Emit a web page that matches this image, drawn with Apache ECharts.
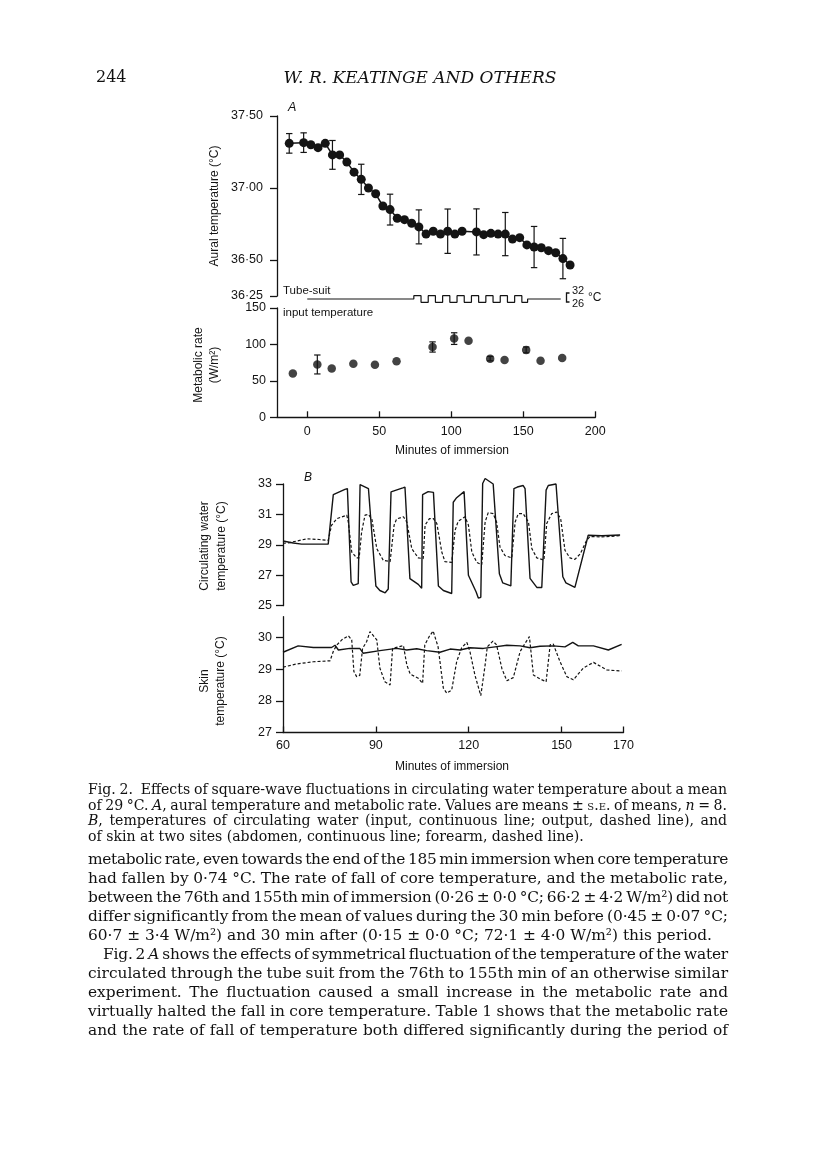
<!DOCTYPE html>
<html><head><meta charset="utf-8">
<script src="https://cdn.jsdelivr.net/npm/echarts@6/dist/echarts.min.js"></script>
<style>
html,body{margin:0;padding:0;background:#fff;}
#page{position:relative;width:816px;height:1158px;overflow:hidden;background:#fff;}
#chart{position:absolute;left:0;top:0;width:816px;height:1158px;}
.t{position:absolute;color:#111;font-family:"DejaVu Serif","Liberation Serif",serif;white-space:nowrap;}
.cap{left:88px;width:639px;font-size:14.1px;line-height:15.5px;height:15.5px;}
.body{left:88px;width:640px;font-size:15.4px;line-height:19px;height:19px;}
.sc{font-variant:small-caps;}
</style></head>
<body><div id="page"><div id="chart"></div>
<div class="t" style="left:96px;top:67px;font-size:16px;">244</div>
<div class="t" style="left:220px;width:400px;top:67px;font-size:17px;font-style:italic;text-align:center;">W. R. KEATINGE AND OTHERS</div>

<div class="t cap j" style="top:782px;">Fig. 2.&nbsp; Effects of square-wave fluctuations in circulating water temperature about a mean</div>
<div class="t cap j" style="top:797.5px;">of 29 °C. <i>A</i>, aural temperature and metabolic rate. Values are means ± <span class="sc">s.e.</span> of means, <i>n</i> = 8.</div>
<div class="t cap j" style="top:813px;"><i>B</i>, temperatures of circulating water (input, continuous line; output, dashed line), and</div>
<div class="t cap" style="top:828.5px;">of skin at two sites (abdomen, continuous line; forearm, dashed line).</div>

<div class="t body j" style="top:849.5px;">metabolic rate, even towards the end of the 185 min immersion when core temperature</div>
<div class="t body j" style="top:868.6px;">had fallen by 0·74 °C. The rate of fall of core temperature, and the metabolic rate,</div>
<div class="t body j" style="top:887.7px;">between the 76th and 155th min of immersion (0·26 ± 0·0 °C; 66·2 ± 4·2 W/m²) did not</div>
<div class="t body j" style="top:906.8px;">differ significantly from the mean of values during the 30 min before (0·45 ± 0·07 °C;</div>
<div class="t body" style="top:925.9px;">60·7 ± 3·4 W/m²) and 30 min after (0·15 ± 0·0 °C; 72·1 ± 4·0 W/m²) this period.</div>
<div class="t body j" style="top:945px;left:103px;width:625px;">Fig. 2 <i>A</i> shows the effects of symmetrical fluctuation of the temperature of the water</div>
<div class="t body j" style="top:964.1px;">circulated through the tube suit from the 76th to 155th min of an otherwise similar</div>
<div class="t body j" style="top:983.2px;">experiment. The fluctuation caused a small increase in the metabolic rate and</div>
<div class="t body j" style="top:1002.3px;">virtually halted the fall in core temperature. Table 1 shows that the metabolic rate</div>
<div class="t body j" style="top:1021.4px;">and the rate of fall of temperature both differed significantly during the period of</div>
</div>
<script>
// ---------- data ----------
const auralMin = [-12.5, -2.5, 2.5, 7.5, 12.5, 17.5, 22.5, 27.5, 32.5, 37.5, 42.5, 47.5, 52.5, 57.5, 62.5, 67.5, 72.5, 77.5, 82.5, 87.5, 92.5, 97.5, 102.5, 107.5, 117.5, 122.5, 127.5, 132.5, 137.5, 142.5, 147.5, 152.5, 157.5, 162.5, 167.5, 172.5, 177.5, 182.5];
const auralTemp = [37.31, 37.315, 37.30, 37.28, 37.31, 37.23, 37.23, 37.18, 37.11, 37.06, 37.00, 36.96, 36.875, 36.85, 36.79, 36.78, 36.755, 36.73, 36.68, 36.70, 36.68, 36.70, 36.68, 36.70, 36.695, 36.676, 36.685, 36.68, 36.68, 36.645, 36.655, 36.605, 36.59, 36.585, 36.565, 36.55, 36.51, 36.465];
const auralErrMin = [-12.5, -2.5, 17.5, 37.5, 57.5, 77.5, 97.5, 117.5, 137.5, 157.5, 177.5];
const auralErrMean = [37.31, 37.315, 37.23, 37.06, 36.85, 36.73, 36.70, 36.695, 36.68, 36.59, 36.51];
const auralErr = [0.068, 0.068, 0.10, 0.105, 0.107, 0.118, 0.154, 0.16, 0.15, 0.143, 0.14];

const metMin = [-10, 7, 17, 32, 47, 62, 87, 102, 112, 127, 137, 152, 162, 177];
const metRate = [60, 72.5, 67, 73.5, 72, 77, 96.5, 108, 105, 80.5, 78.5, 92.5, 77.5, 81.5];
const metErr = [0, 13, 0, 0, 0, 0, 7, 8, 0, 3, 0, 4, 0, 0];

const tubeMin = [0, 74, 74, 79, 79, 84, 84, 89, 89, 94, 94, 99, 99, 104, 104, 109, 109, 114, 114, 119, 119, 124, 124, 129, 129, 134, 134, 139, 139, 144, 144, 149, 149, 153, 153, 176];
const tubeTemp = [29, 29, 32, 32, 26, 26, 32, 32, 26, 26, 32, 32, 26, 26, 32, 32, 26, 26, 32, 32, 26, 26, 32, 32, 26, 26, 32, 32, 26, 26, 32, 32, 26, 26, 29, 29];

const circInMin = [60, 63.3, 66, 70, 74.6, 76.25, 80.0, 80.8, 82.0, 82.7, 84.3, 84.9, 85.4, 87.6, 90.0, 91.3, 93.0, 94.0, 94.9, 98.7, 99.4, 101.0, 103.7, 104.8, 105.1, 106.9, 108.6, 110.2, 111.8, 114.5, 115.0, 116.1, 118.5, 119.9, 122.4, 123.1, 123.9, 124.5, 125.3, 127.9, 129.9, 131.0, 133.6, 134.6, 135.7, 137.6, 138.2, 139.8, 142.0, 143.6, 145.0, 145.7, 148.2, 150.4, 151.4, 154.3, 158.6, 163, 168.9];
const circIn = [29.25, 29.12, 29.05, 29.05, 29.05, 32.3, 32.65, 32.7, 26.56, 26.34, 26.45, 32.96, 33.05, 32.7, 26.3, 26.0, 25.85, 26.1, 32.48, 32.75, 32.8, 26.78, 26.4, 26.15, 32.3, 32.5, 32.45, 26.3, 26.0, 25.8, 31.8, 32.1, 32.5, 27.0, 25.9, 25.5, 25.55, 33.03, 33.36, 33.0, 27.1, 26.5, 26.3, 32.7, 32.8, 32.9, 32.7, 26.8, 26.2, 26.2, 32.6, 32.9, 33.0, 26.9, 26.5, 26.2, 29.63, 29.6, 29.65];
const circOutMin = [60, 62.3, 67.7, 71.7, 74.6, 75.7, 77.4, 80.6, 81.1, 82.2, 83.8, 84.6, 85.4, 86.5, 87.6, 88.7, 90.3, 92.4, 94.6, 95.9, 96.7, 98.9, 100.0, 101.6, 103.7, 105.3, 105.9, 107.3, 108.6, 109.7, 111.3, 112.3, 114.5, 115.6, 116.6, 118.8, 119.9, 121.0, 122.6, 124.2, 125.3, 126.3, 127.9, 129.0, 130.1, 131.7, 133.9, 135.0, 136.0, 137.6, 139.3, 140.4, 142.0, 144.3, 145.2, 146.8, 148.4, 149.7, 151.1, 152.7, 154.3, 156.0, 158.1, 159.2, 163, 168.9];
const circOut = [29.1, 29.15, 29.4, 29.35, 29.3, 30.29, 30.72, 30.95, 30.5, 28.53, 28.14, 28.14, 29.85, 30.95, 31.0, 30.7, 28.75, 27.98, 27.9, 30.3, 30.7, 30.85, 30.5, 28.75, 28.14, 28.1, 30.3, 30.72, 30.72, 30.4, 28.53, 27.9, 27.85, 29.96, 30.55, 30.84, 30.3, 28.53, 27.85, 27.7, 30.5, 31.12, 31.05, 30.5, 28.86, 28.3, 28.14, 30.5, 31.05, 31.05, 30.5, 28.75, 28.14, 28.0, 30.4, 31.05, 31.16, 30.72, 28.64, 28.14, 28.05, 28.4, 29.3, 29.55, 29.52, 29.6];

const skinAbdMin = [60, 64.9, 69.8, 75.7, 76.8, 77.9, 81.6, 84.8, 85.9, 91.3, 96.7, 100.0, 103.2, 106.4, 110.7, 114.0, 117.2, 120.4, 124.7, 128.5, 132.3, 136.6, 139.8, 143.0, 147.3, 151.1, 153.6, 155.4, 160.3, 165.1, 169.4];
const skinAbd = [29.53, 29.73, 29.68, 29.68, 29.75, 29.6, 29.65, 29.65, 29.5, 29.58, 29.65, 29.6, 29.64, 29.58, 29.53, 29.63, 29.6, 29.67, 29.65, 29.7, 29.75, 29.73, 29.67, 29.72, 29.73, 29.7, 29.84, 29.73, 29.73, 29.6, 29.78];
const skinArmMin = [60, 64.4, 69.8, 75.2, 76.3, 77.4, 79.0, 81.1, 82.2, 82.9, 83.8, 84.8, 85.7, 87.0, 88.1, 90.3, 91.3, 92.9, 94.6, 95.4, 98.9, 100.0, 101.1, 103.7, 105.1, 105.8, 107.2, 108.5, 110.1, 111.8, 112.9, 114.5, 116.1, 117.7, 119.4, 120.4, 122.0, 123.9, 125.3, 126.0, 127.8, 129.0, 130.7, 132.3, 134.4, 136.6, 138.2, 139.6, 140.9, 143.0, 145.0, 146.3, 147.3, 149.5, 151.7, 153.8, 157.0, 160.3, 164.6, 169.4];
const skinArm = [29.06, 29.16, 29.23, 29.26, 29.57, 29.76, 29.92, 30.05, 29.92, 28.92, 28.76, 28.8, 29.65, 29.86, 30.18, 29.92, 29.03, 28.6, 28.5, 29.65, 29.74, 29.13, 28.84, 28.71, 28.55, 29.76, 30.02, 30.2, 29.7, 28.4, 28.24, 28.34, 29.23, 29.67, 29.84, 29.55, 28.81, 28.16, 29.13, 29.7, 29.88, 29.76, 29.02, 28.63, 28.73, 29.55, 29.81, 30.02, 28.81, 28.69, 28.6, 29.76, 29.79, 29.23, 28.76, 28.66, 29.03, 29.21, 28.97, 28.94];

const auralTicks = [36.25, 36.5, 37, 37.5];
const minTicksA = [0, 50, 100, 150, 200];
const minTicksB = [60, 90, 120, 150, 170];

// ---------- justified text lines ----------
function fitLines() {
  document.querySelectorAll('.j').forEach(el => {
    let span = el.querySelector(':scope > span.fit');
    if (!span) {
      span = document.createElement('span'); span.className = 'fit';
      while (el.firstChild) span.appendChild(el.firstChild);
      el.appendChild(span);
    }
    el.style.wordSpacing = '0px'; el.style.letterSpacing = '0px';
    const target = el.clientWidth;
    const text = span.textContent;
    const nSp = (text.match(/[ \u00A0]/g) || []).length;
    let w = span.getBoundingClientRect().width;
    let ws = (target - w) / nSp;
    if (ws < -1.6) {
      const w2 = w - 1.6 * nSp;
      el.style.letterSpacing = ((target - w2) / text.length) + 'px';
      w = span.getBoundingClientRect().width;
      ws = (target - w) / nSp;
    }
    el.style.wordSpacing = ws + 'px';
  });
}
fitLines();
if (document.fonts && document.fonts.ready) document.fonts.ready.then(fitLines);

// ---------- chart ----------
const INK = '#141414';
const SANS = '"Liberation Sans", Arial, Helvetica, sans-serif';
const zip = (xs, ys) => xs.map((x, i) => [x, ys[i]]);
const chart = echarts.init(document.getElementById('chart'), null, {renderer: 'canvas'});

const axLine = {show: true, onZero: false, lineStyle: {color: INK, width: 1.3}};
function yTick(vals) { const t = {show: true, inside: false, length: 7, lineStyle: {color: INK, width: 1.3}}; if (vals) t.customValues = vals; return t; }
function lab(margin, extra) { return Object.assign({color: INK, fontFamily: SANS, fontSize: 12.5, margin: margin}, extra || {}); }
const noSplit = {show: false};
const hiddenX = (g, min, max) => ({gridIndex: g, type: 'value', min: min, max: max, show: false, splitLine: noSplit});

function errRender(params, api) {
  const x = api.value(0), y = api.value(1), e = api.value(2);
  const a = api.coord([x, y + e]), b = api.coord([x, y - e]);
  const w = 3.2, st = {stroke: INK, lineWidth: 1.2};
  return {type: 'group', children: [
    {type: 'line', shape: {x1: a[0], y1: a[1], x2: b[0], y2: b[1]}, style: st},
    {type: 'line', shape: {x1: a[0] - w, y1: a[1], x2: a[0] + w, y2: a[1]}, style: st},
    {type: 'line', shape: {x1: b[0] - w, y1: b[1], x2: b[0] + w, y2: b[1]}, style: st}
  ]};
}

function txt(x, y, text, o) {
  o = o || {};
  return {type: 'text', x: x, y: y, rotation: o.rot || 0, silent: true,
    style: {text: text, fill: INK, font: o.font || ('12px ' + SANS), align: o.align || 'left', verticalAlign: o.va || 'middle'}};
}
const ROT = Math.PI / 2;

const metErrData = metMin.map((m, i) => [m, metRate[i], metErr[i]]).filter(d => d[2] > 0);
const auralErrData = auralErrMin.map((m, i) => [m, auralErrMean[i], auralErr[i]]);

const option = {
  animation: false,
  backgroundColor: 'transparent',
  grid: [
    {left: 277, right: 220.7, top: 116, height: 180},      // aural
    {left: 277, right: 220.7, top: 295.7, height: 6.6},    // tube suit
    {left: 277, right: 220.7, top: 308, height: 109.3},    // metabolic
    {left: 283, right: 192.5, top: 484, height: 121.7},    // circulating water
    {left: 283, right: 192.5, top: 616.7, height: 115.8}   // skin
  ],
  xAxis: [
    hiddenX(0, -21, 200),
    hiddenX(1, -21, 200),
    {gridIndex: 2, type: 'value', min: -21, max: 200, axisLine: axLine,
      axisTick: {show: true, inside: true, length: 6, customValues: minTicksA, lineStyle: {color: INK, width: 1.3}},
      axisLabel: lab(8, {customValues: minTicksA}), splitLine: noSplit},
    hiddenX(3, 60, 170),
    {gridIndex: 4, type: 'value', min: 60, max: 170, axisLine: axLine,
      axisTick: {show: true, inside: true, length: 6, customValues: minTicksB, lineStyle: {color: INK, width: 1.3}},
      axisLabel: lab(7, {customValues: minTicksB}), splitLine: noSplit}
  ],
  yAxis: [
    {gridIndex: 0, type: 'value', min: 36.25, max: 37.5, axisLine: axLine, axisTick: yTick(auralTicks),
      axisLabel: lab(14, {customValues: auralTicks, formatter: v => v.toFixed(2).replace('.', '·')}), splitLine: noSplit},
    {gridIndex: 1, type: 'value', min: 26, max: 32, show: false, splitLine: noSplit},
    {gridIndex: 2, type: 'value', min: 0, max: 150, interval: 50, axisLine: axLine, axisTick: yTick(),
      axisLabel: lab(11), splitLine: noSplit},
    {gridIndex: 3, type: 'value', min: 25, max: 33, interval: 2, axisLine: axLine, axisTick: yTick(),
      axisLabel: lab(11), splitLine: noSplit},
    {gridIndex: 4, type: 'value', min: 27, max: 30.65, interval: 1, axisLine: axLine, axisTick: yTick(),
      axisLabel: lab(11, {showMaxLabel: false}), splitLine: noSplit}
  ],
  series: [
    {name: 'Aural temperature', type: 'line', xAxisIndex: 0, yAxisIndex: 0, data: zip(auralMin, auralTemp),
      symbol: 'circle', symbolSize: 9, lineStyle: {color: INK, width: 1.5}, itemStyle: {color: INK}, z: 3, clip: false},
    {name: 'Aural SE', type: 'custom', xAxisIndex: 0, yAxisIndex: 0, data: auralErrData, renderItem: errRender,
      encode: {x: 0, y: 1}, clip: false, z: 2},
    {name: 'Tube-suit input', type: 'line', xAxisIndex: 1, yAxisIndex: 1, data: zip(tubeMin, tubeTemp),
      symbol: 'none', lineStyle: {color: INK, width: 1.2}, clip: false},
    {name: 'Metabolic rate', type: 'scatter', xAxisIndex: 2, yAxisIndex: 2, data: zip(metMin, metRate),
      symbol: 'circle', symbolSize: 8.5, itemStyle: {color: INK}, z: 3},
    {name: 'Metabolic SE', type: 'custom', xAxisIndex: 2, yAxisIndex: 2, data: metErrData, renderItem: errRender,
      encode: {x: 0, y: 1}, clip: false, z: 2},
    {name: 'Input water', type: 'line', xAxisIndex: 3, yAxisIndex: 3, data: zip(circInMin, circIn),
      symbol: 'none', lineStyle: {color: INK, width: 1.4}, clip: false},
    {name: 'Output water', type: 'line', xAxisIndex: 3, yAxisIndex: 3, data: zip(circOutMin, circOut),
      symbol: 'none', lineStyle: {color: INK, width: 1.2, type: [3, 2]}, clip: false},
    {name: 'Abdomen skin', type: 'line', xAxisIndex: 4, yAxisIndex: 4, data: zip(skinAbdMin, skinAbd),
      symbol: 'none', lineStyle: {color: INK, width: 1.4}, clip: false},
    {name: 'Forearm skin', type: 'line', xAxisIndex: 4, yAxisIndex: 4, data: zip(skinArmMin, skinArm),
      symbol: 'none', lineStyle: {color: INK, width: 1.2, type: [3, 2]}, clip: false}
  ],
  graphic: [
    txt(288, 108, 'A', {font: 'italic 12.5px ' + SANS}),
    txt(215, 206, 'Aural temperature (°C)', {rot: ROT, align: 'center', font: '12px ' + SANS}),
    txt(283, 291, 'Tube-suit', {font: '11.5px ' + SANS}),
    txt(283, 313, 'input temperature', {font: '11.5px ' + SANS}),
    {type: 'polyline', silent: true, shape: {points: [[569.5, 293], [566.5, 293], [566.5, 302], [569.5, 302]]},
      style: {stroke: INK, lineWidth: 1.3, fill: null}},
    txt(572, 291, '32', {font: '11px ' + SANS}),
    txt(572, 304, '26', {font: '11px ' + SANS}),
    txt(588, 297.5, '°C', {font: '12px ' + SANS}),
    txt(199, 365, 'Metabolic rate', {rot: ROT, align: 'center', font: '12px ' + SANS}),
    txt(215, 365, '(W/m²)', {rot: ROT, align: 'center', font: '12px ' + SANS}),
    txt(452, 451, 'Minutes of immersion', {align: 'center', font: '12px ' + SANS}),
    txt(304, 478, 'B', {font: 'italic 12px ' + SANS}),
    txt(205, 546, 'Circulating water', {rot: ROT, align: 'center', font: '12px ' + SANS}),
    txt(222, 546, 'temperature (°C)', {rot: ROT, align: 'center', font: '12px ' + SANS}),
    txt(205, 681, 'Skin', {rot: ROT, align: 'center', font: '12px ' + SANS}),
    txt(221, 681, 'temperature (°C)', {rot: ROT, align: 'center', font: '12px ' + SANS}),
    txt(452, 767, 'Minutes of immersion', {align: 'center', font: '12px ' + SANS})
  ]
};
chart.setOption(option);
</script>
</body></html>
